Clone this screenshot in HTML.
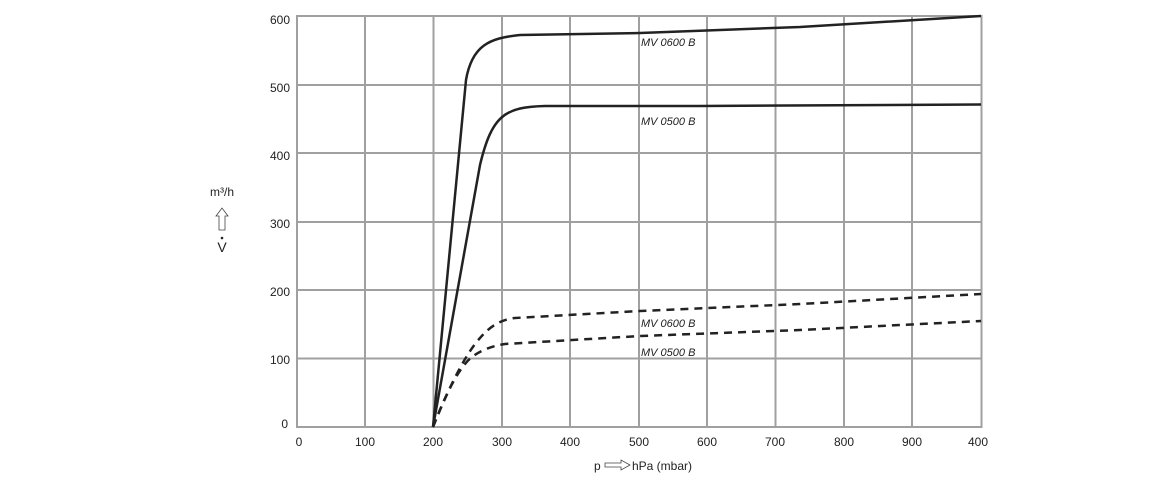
<!DOCTYPE html>
<html><head><meta charset="utf-8"><style>
body{margin:0;background:#fff}
svg text{font-family:"Liberation Sans",sans-serif;fill:#222}
</style></head><body>
<svg width="1160" height="480" viewBox="0 0 1160 480">
<g stroke="#a0a0a0" stroke-width="2" fill="none">
<path d="M365 16V427M433.5 16V427M502 16V427M570 16V427M639 16V427M707 16V427M775.5 16V427M844 16V427M912 16V427"/>
<path d="M297 85H981M297 153H981M297 222H981M297 290H981M297 358.5H981"/>
<rect x="297" y="16" width="684.5" height="411"/>
</g>
<g font-size="12" text-anchor="end">
<text x="290" y="24">600</text><text x="290" y="92">500</text><text x="290" y="160">400</text>
<text x="290" y="228">300</text><text x="290" y="296">200</text><text x="290" y="364">100</text><text x="288" y="428">0</text>
</g>
<g font-size="12" text-anchor="middle">
<text x="299" y="446">0</text><text x="365" y="446">100</text><text x="433" y="446">200</text><text x="502" y="446">300</text>
<text x="570" y="446">400</text><text x="639" y="446">500</text><text x="707" y="446">600</text><text x="775" y="446">700</text>
<text x="844" y="446">800</text><text x="912" y="446">900</text><text x="978" y="446">400</text>
</g>
<text x="594" y="470" font-size="12">p</text>
<path d="M605 463h16v-3l9 5-9 5v-3h-16z" fill="none" stroke="#444" stroke-width="0.8"/>
<text x="632" y="470" font-size="12">hPa (mbar)</text>
<text x="222" y="196" font-size="12" text-anchor="middle">m³/h</text>
<path d="M219 230v-14h-3l6-8 6 8h-3v14z" fill="none" stroke="#444" stroke-width="0.8"/>
<text x="222" y="252" font-size="14" text-anchor="middle">V</text>
<circle cx="222" cy="238" r="1.3" fill="#222"/>
<g fill="none" stroke="#222" stroke-width="2.5">
<path d="M433 427L466 80C472 45 490 38 520 35L640 33L800 27L981 16"/>
<path d="M433 427L480 165C492 115 505 107 545 106L700 106L981 104.5"/>
</g>
<g fill="none" stroke="#222" stroke-width="2.5" stroke-dasharray="8,6">
<path d="M433 427Q460 360 480 338Q495 320 515 318L640 311L800 304L981 294"/>
<path d="M433 427Q455 370 472 357Q485 347 505 344L640 336L800 330L981 321"/>
</g>
<g font-size="11" font-style="italic" fill="#333">
<text x="641" y="46">MV 0600 B</text><text x="641" y="125">MV 0500 B</text>
<text x="641" y="327">MV 0600 B</text><text x="641" y="356">MV 0500 B</text>
</g>
</svg>
</body></html>
